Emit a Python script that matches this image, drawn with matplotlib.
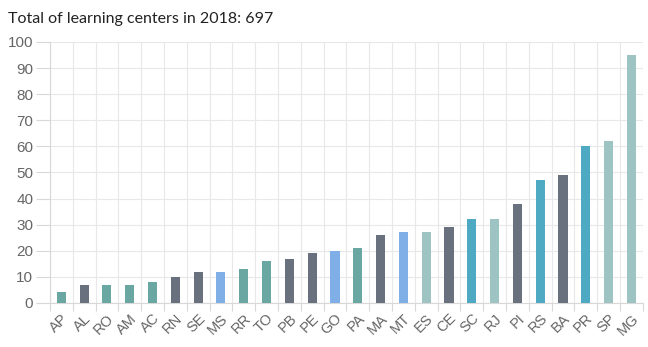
import matplotlib
matplotlib.use("Agg")
import matplotlib.pyplot as plt
import numpy as np

plt.rcParams["font.family"] = ["Liberation Sans", "DejaVu Sans"]

TITULO = "Total of learning centers in 2018: 697"

estados = ["AP", "AL", "RO", "AM", "AC", "RN", "SE", "MS", "RR", "TO", "PB", "PE", "GO",
           "PA", "MA", "MT", "ES", "CE", "SC", "RJ", "PI", "RS", "BA", "PR", "SP", "MG"]
centros = [4, 7, 7, 7, 8, 10, 12, 12, 13, 16, 17, 19, 20,
           21, 26, 27, 27, 29, 32, 32, 38, 47, 49, 60, 62, 95]

# grupo de color de cada barra
TEAL = "#6aa7a3"
GRIS = "#6a717e"
AZUL = "#80aee6"
CIAN = "#4eaac3"
CLARO = "#9dc4c2"
colores = [TEAL, GRIS, TEAL, TEAL, TEAL, GRIS, GRIS, AZUL, TEAL, TEAL, GRIS, GRIS, AZUL,
           TEAL, GRIS, AZUL, CLARO, GRIS, CIAN, CLARO, GRIS, CIAN, GRIS, CIAN, CLARO, CLARO]

fig = plt.figure(figsize=(6.48, 3.47), dpi=100)
ax = fig.add_axes([0.077, 0.127, 0.915, 0.752])

x = np.arange(len(estados))
ax.bar(x, centros, width=0.4, color=colores, zorder=3)

ax.set_xlim(-0.5, len(estados) - 0.5)
ax.set_ylim(0, 100)
ax.set_yticks(np.arange(0, 101, 10))
ax.set_xticks(x)
ax.set_xticklabels(estados, rotation=45, ha="right", rotation_mode="anchor",
                   fontsize=10.5, color="#666666")
ax.set_xticks(np.arange(-0.5, len(estados), 1), minor=True)

ax.tick_params(axis="x", which="major", length=0, pad=6)
ax.tick_params(axis="x", which="minor", length=6, color="#d8d8d8", width=0.8)
ax.tick_params(axis="y", length=10, color="#d8d8d8", width=0.8, labelsize=11,
               labelcolor="#666666", pad=2)

ax.grid(True, axis="y", color="#e8e8e8", lw=0.8, zorder=0)
ax.grid(True, axis="x", which="minor", color="#e8e8e8", lw=0.8, zorder=0)

for lado in ["top", "right"]:
  ax.spines[lado].set_visible(False)
for lado in ["left", "bottom"]:
  ax.spines[lado].set_color("#d8d8d8")
  ax.spines[lado].set_linewidth(0.8)

fig.text(0.012, 0.965, TITULO, fontsize=11.5, color="#222222", family="Lato",
         ha="left", va="top")

fig.savefig("out.png", dpi=100)
